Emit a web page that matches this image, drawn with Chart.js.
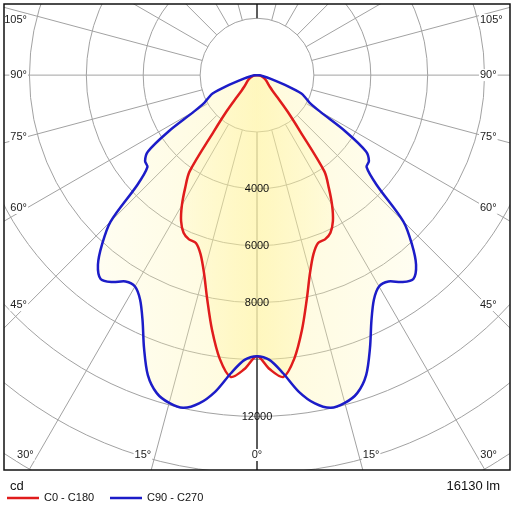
<!DOCTYPE html>
<html>
<head>
<meta charset="utf-8">
<script src="https://cdn.jsdelivr.net/npm/chart.js@4.4.0/dist/chart.umd.min.js"></script>
<style>
  body { margin: 0; background: #fff; }
</style>
</head>
<body>
<canvas id="canvas" width="512" height="512"></canvas>
<script>
// gamma angles (0 = straight down), intensities in cd, same on both halves of each plane
const gammaAngles = [0, 2.5, 5, 7.5, 10, 12.5, 15, 17.5, 20, 22.5, 25, 27.5, 30, 32.5, 35, 37.5,
  40, 42.5, 45, 47.5, 50, 52.5, 55, 57.5, 60, 62.5, 65, 67.5, 70, 75, 80, 85, 90];
const c0c180 = [9880, 10350, 10650, 10050, 9100, 8080, 7200, 6600, 6280, 6250, 6110, 5780, 5280, 4700, 4130, 2500,
  1680, 1080, 760, 620, 540, 480, 440, 400, 370, 330, 300, 270, 240, 170, 110, 50, 0];
const c90c270 = [9880, 10020, 10520, 11220, 11720, 11980, 11930, 11720, 11220, 10380, 9520, 8900, 8580, 8600, 8880, 9030,
  8700, 8060, 7280, 5700, 5030, 4960, 4680, 3700, 2550, 2070, 1880, 1690, 1180, 480, 220, 90, 0];

const seriesNames = ['C0 - C180', 'C90 - C270'];
const ringValues = [2000, 4000, 6000, 8000, 10000, 12000, 14000, 16000];
const ringLabelValues = [4000, 6000, 8000, 12000];
const spokeAngles = [0, 15, 30, 45, 60, 75, 90, 105, 120, 135, 150, 165, 180];
const angleLabels = [0, 15, 30, 45, 60, 75, 90, 105];
const unitText = 'cd';
const fluxText = '16130 lm';

const red = '#e01c1c';
const blue = '#1c1cc8';

function polarPoints(values) {
  const pts = [];
  for (let i = gammaAngles.length - 1; i >= 0; i--) {
    const a = gammaAngles[i] * Math.PI / 180;
    pts.push({ x: -values[i] * Math.sin(a), y: -values[i] * Math.cos(a) });
  }
  for (let i = 1; i < gammaAngles.length; i++) {
    const a = gammaAngles[i] * Math.PI / 180;
    pts.push({ x: values[i] * Math.sin(a), y: -values[i] * Math.cos(a) });
  }
  return pts;
}

// yellow that fades out towards the sides of each curve
function sideGradient(values, edgeAlpha, midAlpha, rgb) {
  return (context) => {
    const { chart } = context;
    if (!chart.chartArea) return null;
    const x = chart.scales.x;
    const half = Math.max(...polarPoints(values).map(p => Math.abs(p.x)));
    const g = chart.ctx.createLinearGradient(x.getPixelForValue(-half), 0, x.getPixelForValue(half), 0);
    g.addColorStop(0, `rgba(${rgb}, ${edgeAlpha})`);
    g.addColorStop(0.5, `rgba(${rgb}, ${midAlpha})`);
    g.addColorStop(1, `rgba(${rgb}, ${edgeAlpha})`);
    return g;
  };
}

const polarGrid = {
  id: 'polarGrid',
  beforeDraw(chart) {
    const { ctx, chartArea: ca, scales: { x, y } } = chart;
    const cx = x.getPixelForValue(0), cy = y.getPixelForValue(0);
    const rad = v => x.getPixelForValue(v) - cx;
    ctx.save();
    ctx.fillStyle = '#fff';
    ctx.fillRect(0, 0, chart.width, chart.height);
    ctx.beginPath();
    ctx.rect(ca.left, ca.top, ca.right - ca.left, ca.bottom - ca.top);
    ctx.clip();
    ctx.strokeStyle = '#a2a2a2';
    ctx.lineWidth = 1;
    ringValues.forEach(v => {
      ctx.beginPath();
      ctx.arc(cx, cy, rad(v), 0, Math.PI * 2);
      ctx.stroke();
    });
    const r0 = rad(ringValues[0]);
    spokeAngles.forEach(g => {
      [-1, 1].forEach(side => {
        const a = g * Math.PI / 180;
        const dx = side * Math.sin(a), dy = Math.cos(a);
        ctx.beginPath();
        ctx.moveTo(cx + dx * r0, cy + dy * r0);
        ctx.lineTo(cx + dx * 900, cy + dy * 900);
        ctx.stroke();
      });
    });
    // black 0-180 axis outside the curves
    const low = y.getPixelForValue(-Math.max(c0c180[0], c90c270[0]));
    ctx.strokeStyle = '#000';
    ctx.beginPath();
    ctx.moveTo(cx, low); ctx.lineTo(cx, ca.bottom);
    ctx.moveTo(cx, cy - r0); ctx.lineTo(cx, ca.top);
    ctx.stroke();
    ctx.restore();
  },
  afterDraw(chart) {
    const { ctx, chartArea: ca, scales: { x, y } } = chart;
    const cx = x.getPixelForValue(0), cy = y.getPixelForValue(0);
    ctx.save();
    ctx.font = '11px "Liberation Sans", Arial, sans-serif';
    ctx.textBaseline = 'middle';

    // ring values
    ctx.fillStyle = '#111';
    ctx.textAlign = 'center';
    ringLabelValues.forEach(v => {
      ctx.fillText(String(v), cx, y.getPixelForValue(-v));
    });

    // angle labels
    const reach = 230, bottom = 455, top = 20;
    angleLabels.forEach(g => {
      [-1, 1].forEach(side => {
        if (g === 0 && side < 0) return;
        const a = g * Math.PI / 180;
        const dx = side * Math.sin(a), dy = Math.cos(a);
        let px, py, align;
        if (g === 0) {
          px = cx; py = bottom; align = 'center';
        } else {
          const yy = cy + dy * reach / Math.abs(dx);
          if (yy <= bottom) {
            px = side < 0 ? cx - reach : cx + reach - 7;
            py = Math.max(yy, top);
          } else {
            const tb = (bottom - cy) / dy;
            px = cx + dx * tb + side * 4;
            py = bottom;
          }
          align = side < 0 ? 'right' : 'left';
        }
        const txt = g + '\u00b0';
        const w = ctx.measureText(txt).width;
        const bx = align === 'center' ? px - w / 2 : (align === 'right' ? px - w : px);
        ctx.fillStyle = '#fff';
        ctx.fillRect(bx - 1, py - 6, w + 2, 12);
        ctx.fillStyle = '#222';
        ctx.textAlign = align;
        ctx.fillText(txt, px, py);
      });
    });

    // frame
    ctx.strokeStyle = '#111';
    ctx.lineWidth = 1.5;
    ctx.strokeRect(ca.left, ca.top, ca.right - ca.left, ca.bottom - ca.top);

    // footer
    ctx.fillStyle = '#111';
    ctx.font = '13px "Liberation Sans", Arial, sans-serif';
    ctx.textAlign = 'left';
    ctx.fillText(unitText, 10, 486);
    ctx.textAlign = 'right';
    ctx.fillText(fluxText, 500, 486);

    ctx.font = '11px "Liberation Sans", Arial, sans-serif';
    ctx.textAlign = 'left';
    [[red, 7, seriesNames[0]], [blue, 110, seriesNames[1]]].forEach(([col, lx, name]) => {
      ctx.strokeStyle = col;
      ctx.lineWidth = 2.5;
      ctx.beginPath();
      ctx.moveTo(lx, 498); ctx.lineTo(lx + 32, 498);
      ctx.stroke();
      ctx.fillStyle = '#111';
      ctx.fillText(name, lx + 37, 498);
    });
    ctx.restore();
  }
};

const ctx = document.getElementById('canvas').getContext('2d');

new Chart(ctx, {
  type: 'line',
  data: {
    datasets: [{
      label: seriesNames[1],
      data: polarPoints(c90c270),
      borderColor: blue,
      borderWidth: 2.5,
      backgroundColor: sideGradient(c90c270, 0.16, 0.42, '255, 245, 170'),
      fill: 'shape',
      tension: 0.3,
      pointRadius: 0
    }, {
      label: seriesNames[0],
      data: polarPoints(c0c180),
      borderColor: red,
      borderWidth: 2.5,
      backgroundColor: sideGradient(c0c180, 0.1, 0.32, '255, 235, 100'),
      fill: 'shape',
      tension: 0.3,
      pointRadius: 0
    }]
  },
  options: {
    responsive: false,
    animation: false,
    layout: { padding: { left: 4, right: 2, top: 4, bottom: 42 } },
    scales: {
      x: { type: 'linear', min: -8895, max: 8895, display: false },
      y: { type: 'linear', min: -13880, max: 2500, display: false }
    },
    plugins: {
      legend: { display: false },
      tooltip: { enabled: false },
      filler: { drawTime: 'beforeDatasetsDraw' }
    }
  },
  plugins: [polarGrid]
});
</script>
</body>
</html>
